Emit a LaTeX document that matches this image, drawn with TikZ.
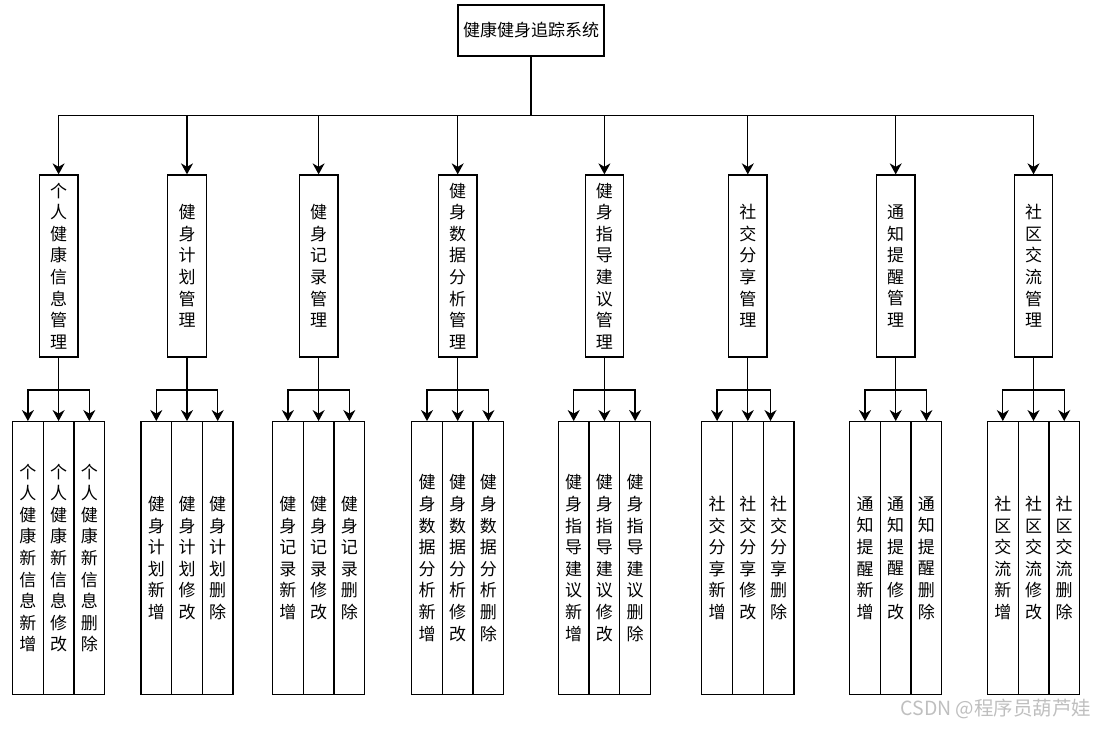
\documentclass[tikz,border=0pt]{standalone}
\usepackage{fontspec}
\newfontfamily\cjk{Noto Sans CJK SC}
\usetikzlibrary{arrows.meta, calc}

% stack the characters of a label one under the other
\newcommand\vstack[1]{\edef\vstacktmp{#1}\expandafter\vstackloop\vstacktmp\relax}
\def\vstackloop#1#2{#1\ifx\relax#2\else\\\expandafter\vstackloop\expandafter#2\fi}

\tikzset{
    box/.style={draw, line width=1.3pt, inner sep=0pt, align=center, font={\cjk\fontsize{17}{21.6}\selectfont}},
    rootbox/.style={box, minimum width=146pt, minimum height=51pt},
    modbox/.style={box, minimum width=38.5pt, minimum height=182pt},
    subbox/.style={box, minimum width=30.7pt, minimum height=272.6pt},
    arr/.style={-{Stealth[length=11pt, width=12pt, inset=3.5pt]}, line width=1.3pt},
    wmtext/.style={text=black!25, font={\cjk\fontsize{19.5}{22}\selectfont}}
}

\begin{document}
\begin{tikzpicture}[x=1pt, y=-1pt]
            \useasboundingbox (0,0) rectangle (1108,730);
            \def\busy{115.7}   % level of the first bus
            \def\suby{390}     % level of the sub buses
            \def\subw{30.7}    % width of a sub box
            \node[rootbox] (root) at (531,30.5) {健康健身追踪系统};
            \foreach \i/\cx/\name/\obj/\off in {1/58.6/个人健康信息管理/个人健康新信息/0,
                                                2/187/健身计划管理/健身计划/0,
                                                3/318.6/健身记录管理/健身记录/0,
                                                4/457.7/健身数据分析管理/健身数据分析/0,
                                                5/604.4/健身指导建议管理/健身指导建议/0,
                                                6/747.8/社交分享管理/社交分享/-8,
                                                7/895.7/通知提醒管理/通知提醒/0,
                                                8/1033.5/社区交流管理/社区交流/0} {
                \node[modbox] (m\i) at (\cx,266) {\vstack{\name}};
                \draw[arr] (root.south) -- (root.south |- 0,\busy) -| (m\i.north);
                \foreach \j/\dx/\act in {1/-1/新增, 2/0/修改, 3/1/删除} {
                    \node[subbox] (s\i-\j) at (\cx+\dx*\subw,558) {\vstack{\obj\act}};
                    \pgfmathsetmacro\sh{(\j==3)*\off}
                    \draw[arr] (m\i.south) -- (m\i.south |- 0,\suby) -| ([xshift=\sh pt]s\i-\j.north);
                };
            };
            \node[wmtext] (wm) at (996,709) {CSDN @程序员葫芦娃};
        \end{tikzpicture}
\end{document}
